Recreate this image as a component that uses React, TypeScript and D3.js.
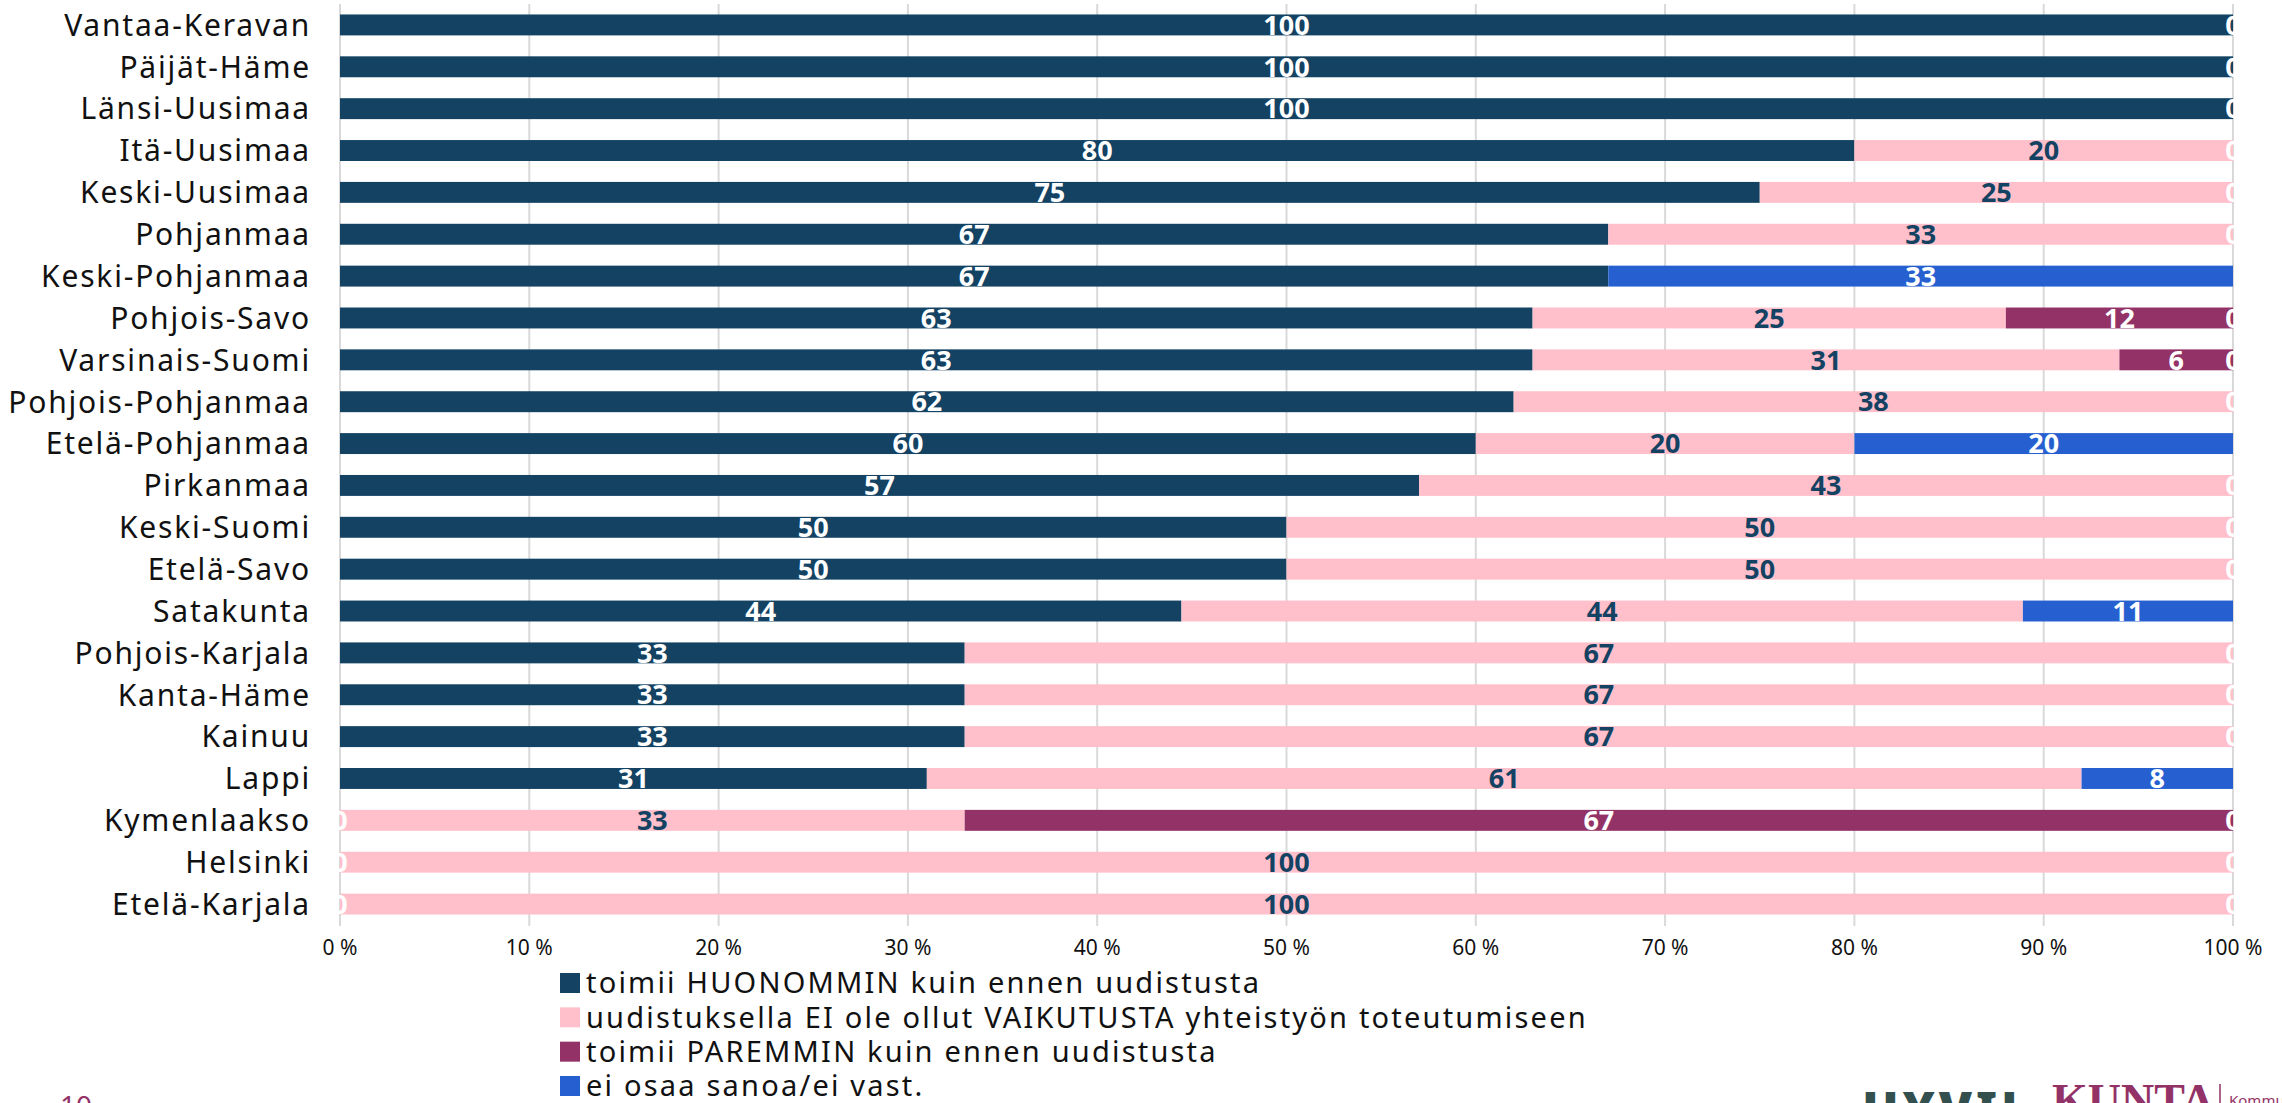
import React from "react";
import * as d3 from "d3";

const categories = [
  "Vantaa-Keravan", "Päijät-Häme", "Länsi-Uusimaa", "Itä-Uusimaa", "Keski-Uusimaa",
  "Pohjanmaa", "Keski-Pohjanmaa", "Pohjois-Savo", "Varsinais-Suomi", "Pohjois-Pohjanmaa",
  "Etelä-Pohjanmaa", "Pirkanmaa", "Keski-Suomi", "Etelä-Savo", "Satakunta",
  "Pohjois-Karjala", "Kanta-Häme", "Kainuu", "Lappi", "Kymenlaakso", "Helsinki", "Etelä-Karjala",
];

// null = blank cell (no label), 0 = labelled zero
const huonommin: (number | null)[] = [100, 100, 100, 80, 75, 67, 67, 63, 63, 62, 60, 57, 50, 50, 44.45, 33, 33, 33, 31, 0, 0, 0];
const eiVaikutusta: (number | null)[] = [null, null, null, 20, 25, 33, null, 25, 31, 38, 20, 43, 50, 50, 44.45, 67, 67, 67, 61, 33, 100, 100];
const paremmin: (number | null)[] = [null, null, null, null, null, null, null, 12, 6, null, null, null, null, null, null, null, null, null, null, 67, null, null];
const eiOsaa: (number | null)[] = [0, 0, 0, 0, 0, 0, 33, 0, 0, 0, 20, 0, 0, 0, 11.1, 0, 0, 0, 8, 0, 0, 0];

const seriesNames = [
  "toimii HUONOMMIN kuin ennen uudistusta",
  "uudistuksella EI ole ollut VAIKUTUSTA yhteistyön toteutumiseen",
  "toimii PAREMMIN kuin ennen uudistusta",
  "ei osaa sanoa/ei vast.",
];
const seriesColors = ["#134263", "#FFC0CB", "#933266", "#2660D0"];
const labelColors = ["#FFFFFF", "#134263", "#FFFFFF", "#FFFFFF"];
const xTicks = [0, 10, 20, 30, 40, 50, 60, 70, 80, 90, 100];

const W = 2282;
const H = 1103;
const FONT = "'Noto Sans', sans-serif";

export default function App() {
  const x = d3.scaleLinear().domain([0, 100]).range([340, 2233]);
  const y = d3.scaleBand<string>().domain(categories).range([4, 925]).paddingInner(0.5).paddingOuter(0.25);
  const allSeries = [huonommin, eiVaikutusta, paremmin, eiOsaa];

  const segs: any[] = [];
  categories.forEach((c, i) => {
    let acc = 0;
    allSeries.forEach((s, k) => {
      const v = s[i];
      if (v === null) return;
      segs.push({ c, k, x0: acc, x1: acc + v, v });
      acc += v;
    });
  });

  const legendY = d3.scalePoint<number>().domain([0, 1, 2, 3]).range([983, 1086]);

  return (
    <svg width={W} height={H} style={{ position: "absolute", left: 0, top: 0, background: "#fff" }}>
      {xTicks.map((t) => (
        <line key={"g" + t} x1={x(t)} x2={x(t)} y1={4} y2={926} stroke="#d9d9d9" strokeWidth={2} />
      ))}
      {segs.map((s, i) => (
        <rect key={"r" + i} x={x(s.x0)} y={y(s.c)} width={Math.max(0, x(s.x1) - x(s.x0))} height={y.bandwidth()} fill={seriesColors[s.k]} />
      ))}
      {segs.map((s, i) => (
        <text key={"v" + i} x={(x(s.x0) + x(s.x1)) / 2} y={(y(s.c) as number) + y.bandwidth() / 2} dy="0.36em"
          textAnchor="middle" fontFamily={FONT} fontWeight={700} fontSize={27} fill={labelColors[s.k]}>
          {Math.round(s.v)}
        </text>
      ))}
      {categories.map((c) => (
        <text key={"c" + c} x={311} y={(y(c) as number) + y.bandwidth() / 2} dy="0.36em" textAnchor="end"
          fontFamily={FONT} fontSize={30} letterSpacing={1.8} fill="#111">
          {c}
        </text>
      ))}
      {xTicks.map((t) => (
        <text key={"t" + t} x={x(t)} y={947} dy="0.36em" textAnchor="middle" fontFamily={FONT} fontSize={21} fill="#111">
          {t + " %"}
        </text>
      ))}
      {seriesNames.map((n, k) => {
        const cy = legendY(k) as number;
        return (
          <g key={"l" + k}>
            <rect x={560} y={cy - 10} width={20} height={20} fill={seriesColors[k]} />
            <text x={586} y={cy} dy="0.36em" fontFamily={FONT} fontSize={29} letterSpacing={2.2} fill="#111">
              {n}
            </text>
          </g>
        );
      })}
      <text x={60} y={1116} fontFamily={FONT} fontSize={28} fill="#933266">10</text>
      <text x={1862} y={1126} fontFamily={FONT} fontSize={48} fontWeight={900} fill="#34504E" letterSpacing={4}>HYVIL</text>
      <text x={2052} y={1116} fontFamily="'Liberation Serif', serif" fontWeight={700} fontSize={46} fill="#933266">KUNTA</text>
      <line x1={2220} x2={2220} y1={1084} y2={1103} stroke="#933266" strokeWidth={1.5} />
      <text x={2229} y={1106} fontFamily={FONT} fontSize={15} fill="#933266">Kommuu</text>
    </svg>
  );
}
